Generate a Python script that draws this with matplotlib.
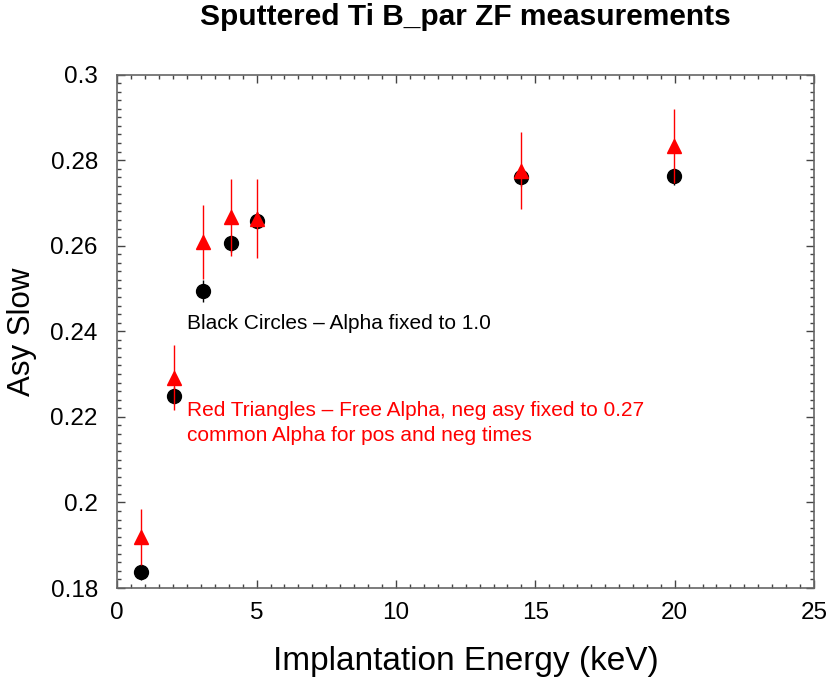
import matplotlib
matplotlib.use("Agg")
import matplotlib.pyplot as plt
from matplotlib.ticker import MultipleLocator, FuncFormatter

plt.rcParams['font.family'] = ['Liberation Sans', 'DejaVu Sans']

# Data
energy_black = [0.85, 2.04, 3.06, 4.07, 5.02, 14.49, 19.97]
asy_black = [0.1838, 0.2249, 0.2494, 0.2606, 0.2658, 0.2760, 0.2762]
err_black = [0.0019, 0.0020, 0.0026, 0.0020, 0.0020, 0.0020, 0.0020]

energy_red = [0.85, 2.04, 3.06, 4.07, 5.02, 14.49, 19.97]
asy_red = [0.1919, 0.2291, 0.2609, 0.2667, 0.2663, 0.2775, 0.2833]
err_red = [0.0066, 0.0076, 0.0086, 0.0090, 0.0092, 0.0090, 0.0087]

title = "Sputtered Ti B_par ZF measurements"
xlabel = "Implantation Energy (keV)"
ylabel = "Asy Slow"
note_black = "Black Circles \u2013 Alpha fixed to 1.0"
note_red = "Red Triangles \u2013 Free Alpha, neg asy fixed to 0.27\ncommon Alpha for pos and neg times"

fig = plt.figure(figsize=(8.27, 6.85), dpi=100)
ax = fig.add_axes([0.1418, 0.1416, 0.8425, 0.7496])

ax.errorbar(energy_black, asy_black, yerr=err_black, fmt='o', color='black',
            markersize=10, elinewidth=1.0, capsize=0, zorder=3)
ax.errorbar(energy_red, asy_red, yerr=err_red, fmt='^', color='#ff0000',
            markersize=10.5, elinewidth=1.0, capsize=0, zorder=4)

ax.set_xlim(0, 25)
ax.set_ylim(0.18, 0.30)
ax.xaxis.set_major_locator(MultipleLocator(5))
ax.xaxis.set_minor_locator(MultipleLocator(0.5))
ax.yaxis.set_major_locator(MultipleLocator(0.02))
ax.yaxis.set_minor_locator(MultipleLocator(0.002))
ax.yaxis.set_major_formatter(FuncFormatter(lambda v, p: f"{v:.2f}".rstrip('0')))
ax.xaxis.set_major_formatter(FuncFormatter(lambda v, p: f"{v:g}"))

ax.tick_params(which='both', direction='in', top=True, right=True,
               color='#444444', width=1.0, labelsize=17.5)
ax.tick_params(which='major', length=6)
ax.tick_params(which='minor', length=3)
ax.tick_params(axis='x', which='major', pad=10)
ax.tick_params(axis='y', which='major', pad=14)
for s in ax.spines.values():
    s.set_color('#666666')
    s.set_linewidth(1.2)

ax.set_xlabel(xlabel, fontsize=24, labelpad=16)
ax.set_ylabel(ylabel, fontsize=22.5, labelpad=10)
ax.set_title(title, fontsize=21.5, fontweight='bold', pad=35.5)

ax.text(2.5, 0.2417, note_black, color='black', fontsize=15, va='center', ha='left')
ax.text(2.5, 0.2185, note_red, color='#ff0000', fontsize=15, va='center', ha='left',
        linespacing=1.4)

fig.savefig("out.png", dpi=100)
